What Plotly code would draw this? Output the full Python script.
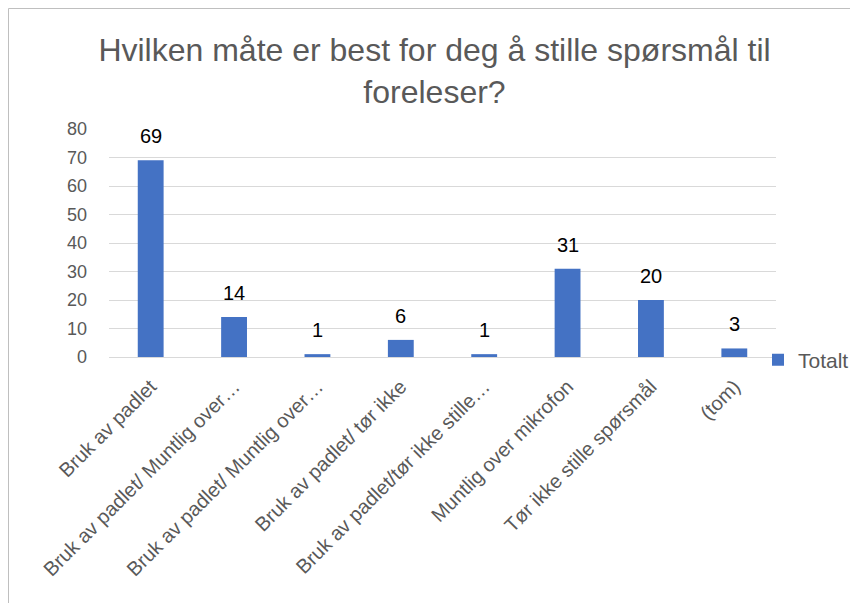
import plotly.graph_objects as go

categories = [
    "Bruk av padlet",
    "Bruk av padlet/ Muntlig over…",
    "Bruk av padlet/ Muntlig over…",
    "Bruk av padlet/ tør ikke",
    "Bruk av padlet/tør ikke stille…",
    "Muntlig over mikrofon",
    "Tør ikke stille spørsmål",
    "(tom)",
]
values = [69, 14, 1, 6, 1, 31, 20, 3]
series_name = "Totalt"
title_text = "Hvilken måte er best for deg å stille spørsmål til<br>foreleser?"
y_ticks = [0, 10, 20, 30, 40, 50, 60, 70, 80]

positions = list(range(len(categories)))

W, H = 850, 595  # page body adds 8px margin on left/top

fig = go.Figure()
fig.add_trace(go.Bar(
    x=positions,
    y=values,
    name=series_name,
    marker=dict(color="#4472C4", line=dict(width=0)),
    showlegend=True,
    hoverinfo="x+y",
))

annotations = [
    dict(
        x=p, y=v, xref="x", yref="y",
        text=str(v), showarrow=False,
        xanchor="center", yanchor="bottom", yshift=11,
        font=dict(family="Liberation Sans", size=20, color="#000000"),
    )
    for p, v in zip(positions, values)
]

fig.update_layout(
    width=W,
    height=H,
    paper_bgcolor="white",
    plot_bgcolor="white",
    margin=dict(l=101, r=82, t=121, b=246, autoexpand=False),
    bargap=0.69,
    title=dict(
        text=title_text,
        font=dict(family="Liberation Sans", size=32, color="#595959"),
        x=426.5 / W, xanchor="center",
        xref="container",
        yref="container",
        y=1 - 53 / H, yanchor="top",
    ),
    xaxis=dict(
        tickmode="array",
        tickvals=positions,
        ticktext=categories,
        tickangle=-45,
        range=[-0.5, len(categories) - 0.5],
        showgrid=False,
        showline=False,
        zeroline=False,
        ticks="",
        tickfont=dict(family="Liberation Sans", size=20, color="#595959"),
        ticklabelstandoff=13,
    ),
    yaxis=dict(
        range=[0, 80],
        tickvals=y_ticks,
        showgrid=True,
        gridcolor="#D9D9D9",
        gridwidth=1,
        zeroline=True,
        zerolinecolor="#D9D9D9",
        zerolinewidth=1,
        showline=False,
        ticks="",
        tickfont=dict(family="Liberation Sans", size=18, color="#595959"),
        ticklabelstandoff=21,
    ),
    legend=dict(
        xref="container", yref="container",
        x=750 / W, xanchor="left",
        y=1 - 352 / H, yanchor="middle",
        font=dict(family="Liberation Sans", size=21, color="#595959"),
        bgcolor="rgba(0,0,0,0)",
        itemwidth=30,
        borderwidth=0,
    ),
    annotations=annotations,
    shapes=[dict(
        type="rect", xref="paper", yref="paper",
        x0=-100.5 / 667, x1=1.5, y0=-2.0, y1=(349 - 0.5) / 228,
        line=dict(color="#BFBFBF", width=1),
        fillcolor="rgba(0,0,0,0)",
        layer="below",
    )],
)

fig.write_html("out.html")
